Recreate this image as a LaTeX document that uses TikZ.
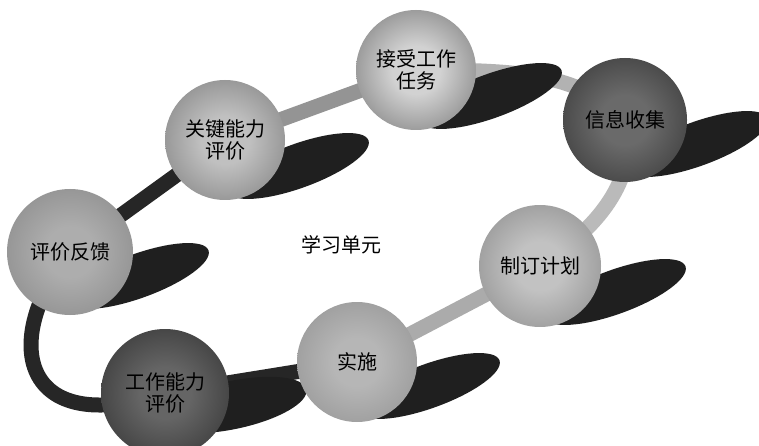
\documentclass[tikz,border=0pt]{standalone}
\usepackage{fontspec}
\newfontfamily\cjk{Noto Sans CJK SC}
\usetikzlibrary{shapes.geometric,calc}
\pgfdeclarelayer{bandlayer}
\pgfdeclarelayer{shadowlayer}
\pgfsetlayers{bandlayer,shadowlayer,main}
\newcommand\mksphere[3]{\pgfdeclareradialshading{#1}{\pgfpoint{0bp}{0bp}}{color(0bp)=(#2); color(10bp)=(#2); color(32bp)=(#2!50!#3); color(50bp)=(#3)}}
\definecolor{aIn}{HTML}{D2D2D2}\definecolor{aOut}{HTML}{353535}
\definecolor{bIn}{HTML}{6A6A6A}\definecolor{bOut}{HTML}{101010}
\definecolor{cIn}{HTML}{C2C2C2}\definecolor{cOut}{HTML}{636363}
\definecolor{dIn}{HTML}{B6B6B6}\definecolor{dOut}{HTML}{787878}
\definecolor{eIn}{HTML}{656565}\definecolor{eOut}{HTML}{0C0C0C}
\definecolor{fIn}{HTML}{ADADAD}\definecolor{fOut}{HTML}{6C6C6C}
\definecolor{gIn}{HTML}{C0C0C0}\definecolor{gOut}{HTML}{4E4E4E}
\mksphere{sphA}{aIn}{aOut}
\mksphere{sphB}{bIn}{bOut}
\mksphere{sphC}{cIn}{cOut}
\mksphere{sphD}{dIn}{dOut}
\mksphere{sphE}{eIn}{eOut}
\mksphere{sphF}{fIn}{fOut}
\mksphere{sphG}{gIn}{gOut}
\tikzset{
  sphere/.style={circle, inner sep=0pt, minimum size=#1, align=center, text=black,
    font=\cjk\fontsize{20}{22}\selectfont},
  band/.style={line width=15pt, line cap=butt},
  shadowsty/.style={ellipse, fill=black!88, inner sep=0pt, minimum width=150pt,
    minimum height=44pt, rotate=20},
}
\begin{document}
\begin{tikzpicture}[x=1pt,y=-1pt]
\useasboundingbox (0,0) rectangle (759,446);
\node[sphere=120pt, shading=sphA] (s1) at (416,70) {接受工作\\任务};
\node[sphere=124pt, shading=sphB] (s2) at (625,120) {信息收集};
\node[sphere=122pt, shading=sphC] (s3) at (540,266) {制订计划};
\node[sphere=120pt, shading=sphD] (s4) at (357,362) {实施};
\node[sphere=128pt, shading=sphE] (s5) at (165,393) {工作能力\\评价};
\node[sphere=126pt, shading=sphF] (s6) at (70,252) {评价反馈};
\node[sphere=120pt, shading=sphG] (s7) at (225,140) {关键能力\\评价};
\node[font=\cjk\fontsize{20}{22}\selectfont] (unit) at (341,245) {学习单元};
\coordinate (j12) at (600,100);
\begin{pgfonlayer}{shadowlayer}
\node[shadowsty] (sh1) at ($(s1)+(75,26)$) {};
\node[shadowsty] (sh2) at ($(s2)+(72,24)$) {};
\node[shadowsty] (sh3) at ($(s3)+(75,26)$) {};
\node[shadowsty] (sh4) at ($(s4)+(72,24)$) {};
\node[shadowsty, rotate=-8, minimum height=48pt] (sh5) at ($(s5)+(68,12)$) {};
\node[shadowsty] (sh6) at ($(s6)+(68,24)$) {};
\node[shadowsty] (sh7) at ($(s7)+(73,26)$) {};
\end{pgfonlayer}
\begin{pgfonlayer}{bandlayer}
\draw[band, black!85] (s6.center) -- (s7.center);
\draw[band, black!42] (s7.center) -- (s1.center);
\draw[band, black!30] (s1.center) .. controls (500,70) and (560,72) .. (j12);
\draw[band, black!27] (s2.center) .. controls (640,180) and (595,230) .. (s3.center);
\draw[band, black!33] (s3.center) -- (s4.center);
\draw[band, black!85] (s4.center) -- (s5.center);
\draw[band, black!85] (s5.center) .. controls (20,440) and (0,340) .. (s6.center);
\end{pgfonlayer}
\end{tikzpicture}
\end{document}
